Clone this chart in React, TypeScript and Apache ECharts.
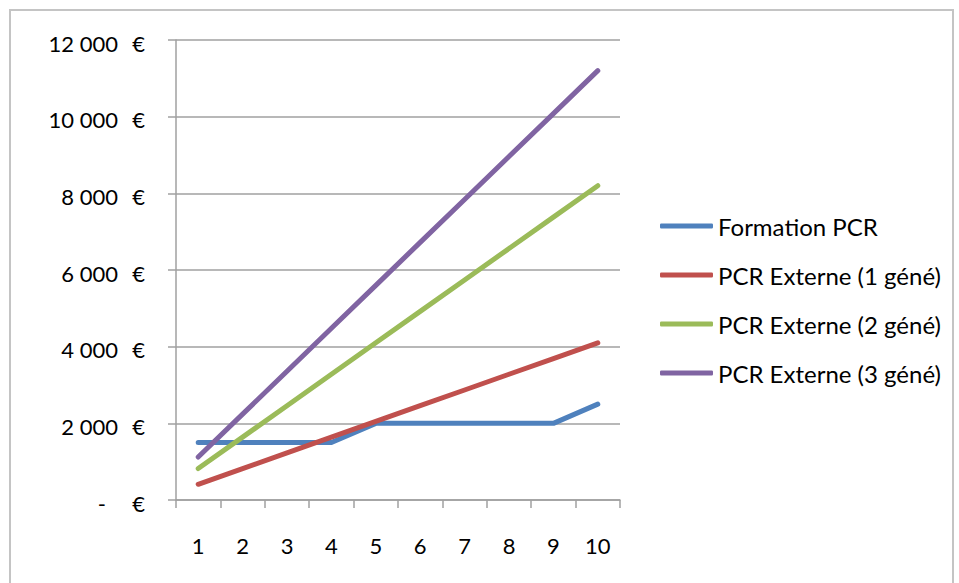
import React, { useEffect, useRef } from "react";
import * as echarts from "echarts";

const categories = ["1", "2", "3", "4", "5", "6", "7", "8", "9", "10"];
const formationPCR = [1500, 1500, 1500, 1500, 2000, 2000, 2000, 2000, 2000, 2500];
const externe1 = [410, 820, 1230, 1640, 2050, 2460, 2870, 3280, 3690, 4100];
const externe2 = [820, 1640, 2460, 3280, 4100, 4920, 5740, 6560, 7380, 8200];
const externe3 = [1120, 2240, 3360, 4480, 5600, 6720, 7840, 8960, 10080, 11200];
const seriesNames = [
  "Formation PCR",
  "PCR Externe (1 géné)",
  "PCR Externe (2 géné)",
  "PCR Externe (3 géné)",
];
const colors = ["#4F81BD", "#C0504D", "#9BBB59", "#8064A2"];

const FONT = "Lato";

function fmt(v: number): string {
  return String(v).replace(/\B(?=(\d{3})+(?!\d))/g, " ");
}

export default function App() {
  const ref = useRef<HTMLDivElement>(null);
  useEffect(() => {
    if (!ref.current) return;
    const chart = echarts.init(ref.current, null, { renderer: "svg" });
    const data = [formationPCR, externe1, externe2, externe3];
    chart.setOption({
      animation: false,
      backgroundColor: "#ffffff",
      textStyle: { fontFamily: FONT },
      graphic: [
        {
          type: "rect",
          shape: { x: 10, y: 10, width: 943, height: 620 },
          style: { fill: "none", stroke: "#c4c4c4", lineWidth: 2 },
          silent: true,
        },
      ],
      grid: {
        left: 176,
        top: 40,
        width: 444,
        height: 460,
        containLabel: false,
        outerBoundsMode: "none",
      },
      legend: {
        orient: "vertical",
        left: 655,
        top: 209,
        padding: 5,
        itemWidth: 53,
        itemHeight: 5,
        itemGap: 25,
        icon: "roundRect",
        textStyle: { fontFamily: FONT, fontSize: 24, color: "#000" },
        data: seriesNames,
      },
      xAxis: {
        type: "category",
        data: categories,
        boundaryGap: true,
        axisLine: { lineStyle: { color: "#a0a0a0", width: 1.5 } },
        axisTick: { show: true, length: 8, lineStyle: { color: "#a0a0a0", width: 1.5 } },
        axisLabel: { fontFamily: FONT, fontSize: 22, color: "#000", margin: 34 },
        splitLine: { show: false },
      },
      yAxis: {
        type: "value",
        min: 0,
        max: 12000,
        interval: 2000,
        axisLine: { show: true, lineStyle: { color: "#a0a0a0", width: 1.5 } },
        axisTick: { show: true, length: 8, lineStyle: { color: "#a0a0a0", width: 1.5 } },
        splitLine: { show: true, lineStyle: { color: "#a0a0a0", width: 1.5 } },
        axisLabel: {
          margin: 31,
          fontFamily: FONT,
          fontSize: 22,
          color: "#000",
          padding: [6, 0, 0, 0],
          formatter: (v: number) =>
            v === 0 ? "{z|-}{g| }{e|€}" : `{n|${fmt(v)}}{e|€}`,
          rich: {
            n: { fontFamily: FONT, fontSize: 22, color: "#000", width: 72, align: "right" },
            z: { fontFamily: FONT, fontSize: 22, color: "#000", width: 60, align: "right" },
            g: { fontFamily: FONT, fontSize: 22, color: "#000", width: 12 },
            e: { fontFamily: FONT, fontSize: 22, color: "#000", width: 27, align: "right" },
          },
        },
      },
      series: seriesNames.map((name, i) => ({
        name,
        type: "line",
        data: data[i],
        symbol: "none",
        color: colors[i],
        lineStyle: { color: colors[i], width: 5, cap: "round", join: "round" },
        itemStyle: { color: colors[i] },
      })),
    });
    return () => chart.dispose();
  }, []);
  return (
    <div
      ref={ref}
      style={{ position: "absolute", left: 0, top: 0, width: 959, height: 583 }}
    />
  );
}
